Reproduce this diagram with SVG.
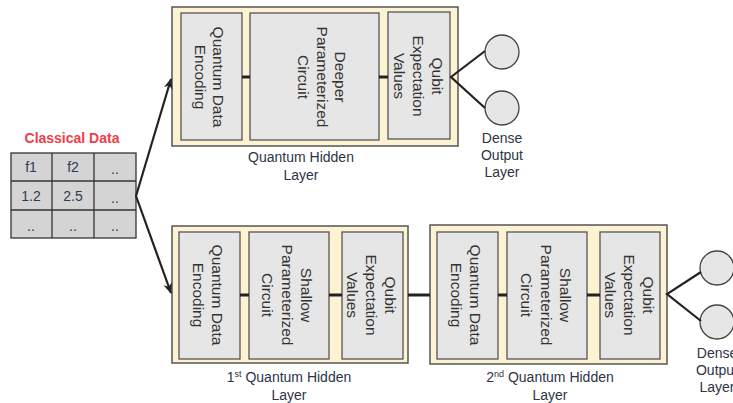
<svg xmlns="http://www.w3.org/2000/svg" width="733" height="403" viewBox="0 0 733 403">
<defs>
<style>
.outer{fill:#fdf3d2;stroke:#555;stroke-width:1.5}
.inner{fill:#e6e6e6;stroke:#555;stroke-width:1.3}
.circ{fill:#e6e6e6;stroke:#444;stroke-width:1.3}
.conn{stroke:#222;stroke-width:3;fill:none}
.arr{stroke:#222;stroke-width:2.2;fill:none}
.vt{font-family:"Liberation Sans",Arial,sans-serif;font-size:15.5px;fill:#333;text-anchor:middle;dominant-baseline:central}
.lbl{font-family:"Liberation Sans",Arial,sans-serif;font-size:14px;fill:#2d3445;text-anchor:middle}
.cell{font-family:"Liberation Sans",Arial,sans-serif;font-size:14px;fill:#2f3a55;text-anchor:middle;dominant-baseline:central}
.sup{font-size:9px}
</style>
<marker id="ah" viewBox="0 0 10 10" refX="9" refY="5" markerWidth="5" markerHeight="5" orient="auto" markerUnits="strokeWidth">
<path d="M0,1 L10,5 L0,9 L3,5 Z" fill="#222"/>
</marker>
</defs>

<g id="classical-data">
<text x="72" y="143" font-family="Liberation Sans,Arial,sans-serif" font-size="14" font-weight="bold" fill="#f03c4c" text-anchor="middle">Classical Data</text>
<rect x="11" y="153" width="125" height="85" fill="#d4d4d4" stroke="#333" stroke-width="1.3"/>
<line x1="52" y1="153" x2="52" y2="238" stroke="#333" stroke-width="1.3"/>
<line x1="94" y1="153" x2="94" y2="238" stroke="#333" stroke-width="1.3"/>
<line x1="11" y1="181" x2="136" y2="181" stroke="#333" stroke-width="1.3"/>
<line x1="11" y1="210" x2="136" y2="210" stroke="#333" stroke-width="1.3"/>
<text class="cell" x="31" y="167">f1</text>
<text class="cell" x="73" y="167">f2</text>
<text class="cell" x="115" y="169">..</text>
<text class="cell" x="31" y="196">1.2</text>
<text class="cell" x="73" y="196">2.5</text>
<text class="cell" x="115" y="198">..</text>
<text class="cell" x="31" y="226">..</text>
<text class="cell" x="73" y="226">..</text>
<text class="cell" x="115" y="226">..</text>
</g>

<g id="top-hidden-layer">
<rect class="outer" x="172" y="7" width="286" height="139"/>
<rect class="inner" x="181" y="13" width="61" height="127"/>
<rect class="inner" x="250" y="13" width="129" height="127"/>
<rect class="inner" x="388" y="12" width="62" height="127"/>
<g transform="translate(209,77) rotate(90)"><text class="vt" y="-9">Quantum Data</text><text class="vt" y="9">Encoding</text></g>
<g transform="translate(322,77) rotate(90)"><text class="vt" y="-18.5">Deeper</text><text class="vt" y="0">Parameterized</text><text class="vt" y="18.5">Circuit</text></g>
<g transform="translate(418,76) rotate(90)"><text class="vt" y="-19">Qubit</text><text class="vt" y="0">Expectation</text><text class="vt" y="19">Values</text></g>
<text class="lbl" x="301" y="162">Quantum Hidden</text>
<text class="lbl" x="301" y="180">Layer</text>
</g>

<g id="top-dense-output">
<circle class="circ" cx="502" cy="52" r="17"/>
<circle class="circ" cx="502" cy="108" r="17"/>
<text class="lbl" x="502" y="143">Dense</text>
<text class="lbl" x="502" y="160">Output</text>
<text class="lbl" x="502" y="177">Layer</text>
</g>

<g id="hidden-layer-1">
<rect class="outer" x="172" y="226" width="236" height="137"/>
<rect class="inner" x="179" y="232" width="61" height="127"/>
<rect class="inner" x="249" y="232" width="80" height="127"/>
<rect class="inner" x="342" y="232" width="61" height="127"/>
<g transform="translate(208,295) rotate(90)"><text class="vt" y="-9.5">Quantum Data</text><text class="vt" y="9.5">Encoding</text></g>
<g transform="translate(287,295) rotate(90)"><text class="vt" y="-19.5">Shallow</text><text class="vt" y="0">Parameterized</text><text class="vt" y="19.5">Circuit</text></g>
<g transform="translate(371,295) rotate(90)"><text class="vt" y="-19">Qubit</text><text class="vt" y="0">Expectation</text><text class="vt" y="19">Values</text></g>
<text class="lbl" x="289" y="382">1<tspan class="sup" dy="-5">st</tspan><tspan dy="5"> Quantum Hidden</tspan></text>
<text class="lbl" x="289" y="400">Layer</text>
</g>

<g id="hidden-layer-2">
<rect class="outer" x="430" y="225" width="237" height="139"/>
<rect class="inner" x="437" y="232" width="61" height="127"/>
<rect class="inner" x="507" y="232" width="80" height="127"/>
<rect class="inner" x="600" y="232" width="60" height="127"/>
<g transform="translate(466,295) rotate(90)"><text class="vt" y="-9.5">Quantum Data</text><text class="vt" y="9.5">Encoding</text></g>
<g transform="translate(546,295) rotate(90)"><text class="vt" y="-19.5">Shallow</text><text class="vt" y="0">Parameterized</text><text class="vt" y="19.5">Circuit</text></g>
<g transform="translate(629,295) rotate(90)"><text class="vt" y="-19">Qubit</text><text class="vt" y="0">Expectation</text><text class="vt" y="19">Values</text></g>
<text class="lbl" x="550" y="382">2<tspan class="sup" dy="-5">nd</tspan><tspan dy="5"> Quantum Hidden</tspan></text>
<text class="lbl" x="550" y="400">Layer</text>
</g>

<g id="bottom-dense-output">
<circle class="circ" cx="717" cy="268" r="17"/>
<circle class="circ" cx="717" cy="322" r="17"/>
<text class="lbl" x="717" y="358">Dense</text>
<text class="lbl" x="717" y="375">Output</text>
<text class="lbl" x="717" y="392">Layer</text>
</g>

<g id="connectors">
<line class="arr" x1="136" y1="196" x2="171" y2="79" marker-end="url(#ah)"/>
<line class="arr" x1="136" y1="196" x2="171" y2="293" marker-end="url(#ah)"/>
<line class="conn" x1="242" y1="77" x2="250" y2="77"/>
<line class="conn" x1="379" y1="77" x2="388" y2="77"/>
<polyline class="arr" points="485,51 451,77 485,108"/>
<line class="conn" x1="240" y1="295" x2="249" y2="295"/>
<line class="conn" x1="329" y1="295" x2="342" y2="295"/>
<line class="conn" x1="408" y1="295" x2="430" y2="295"/>
<line class="conn" x1="498" y1="295" x2="507" y2="295"/>
<line class="conn" x1="587" y1="295" x2="600" y2="295"/>
<polyline class="arr" points="701,272 667,294 701,321"/>
</g>
</svg>
